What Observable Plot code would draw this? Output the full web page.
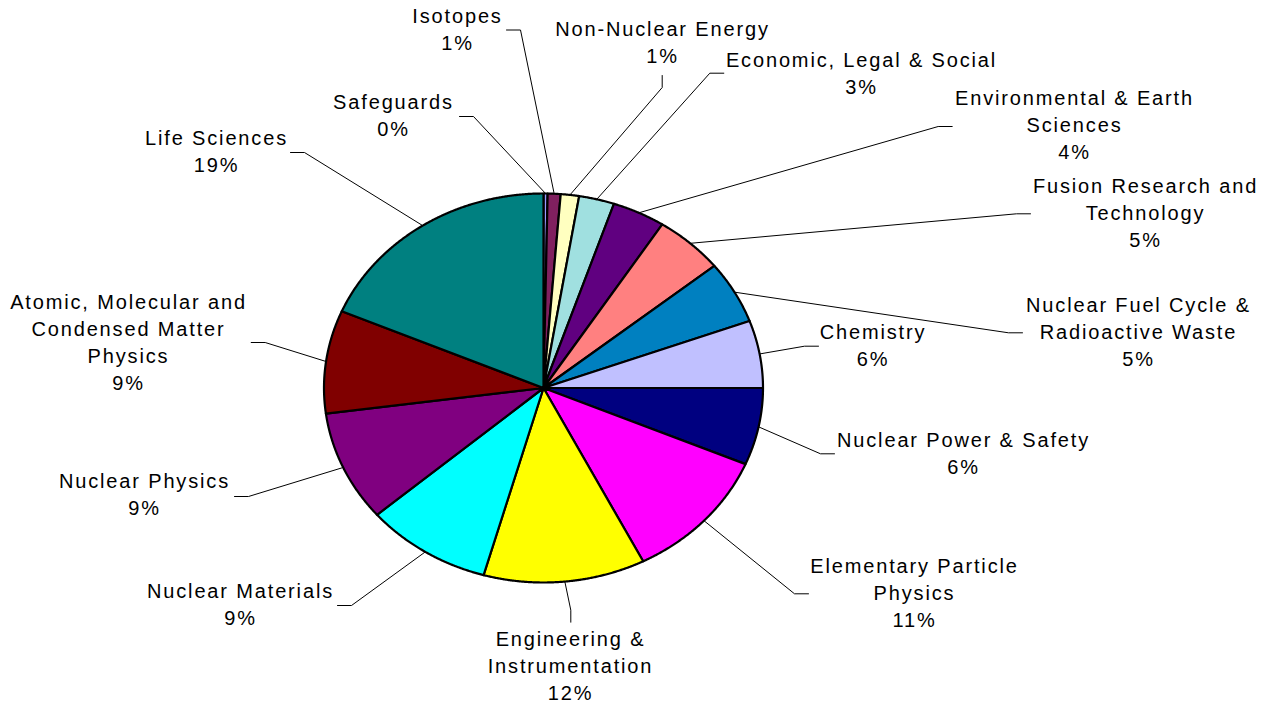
<!DOCTYPE html>
<html>
<head>
<meta charset="utf-8">
<script src="https://cdn.jsdelivr.net/npm/d3@7"></script>
<script src="https://cdn.jsdelivr.net/npm/@observablehq/plot@0.6"></script>
<style>
  html, body { margin: 0; padding: 0; background: #ffffff; }
  #chart { width: 1274px; height: 706px; }
</style>
</head>
<body>
<div id="chart"></div>
<script>
// ---------- DATA ----------
const categories = [
  "Safeguards",
  "Isotopes",
  "Non-Nuclear Energy",
  "Economic, Legal & Social",
  "Environmental & Earth Sciences",
  "Fusion Research and Technology",
  "Nuclear Fuel Cycle & Radioactive Waste",
  "Chemistry",
  "Nuclear Power & Safety",
  "Elementary Particle Physics",
  "Engineering & Instrumentation",
  "Nuclear Materials",
  "Nuclear Physics",
  "Atomic, Molecular and Condensed Matter Physics",
  "Life Sciences"
];
// share of total (percent), clockwise from 12 o'clock
const shares = [0.3, 0.95, 1.35, 2.6, 3.9, 5.1, 5.2, 5.6, 6.4, 11.1, 11.9, 9.3, 9.2, 8.55, 18.55];
const colors = [
  "#9999FF", "#80205F", "#FFFFC0", "#A0E0E0", "#600080",
  "#FF8080", "#0080C0", "#C0C0FF", "#000080", "#FF00FF",
  "#FFFF00", "#00FFFF", "#800080", "#800000", "#008080"
];
// wrapped label text, as laid out in the chart
const labelLines = [
  "Safeguards",
  "Isotopes",
  "Non-Nuclear Energy",
  "Economic, Legal & Social",
  "Environmental & Earth\nSciences",
  "Fusion Research and\nTechnology",
  "Nuclear Fuel Cycle &\nRadioactive Waste",
  "Chemistry",
  "Nuclear Power & Safety",
  "Elementary Particle\nPhysics",
  "Engineering &\nInstrumentation",
  "Nuclear Materials",
  "Nuclear Physics",
  "Atomic, Molecular and\nCondensed Matter\nPhysics",
  "Life Sciences"
];

// ---------- LAYOUT ----------
const W = 1274, H = 706;
const CX = 543, CY = 387.5, RX = 219.5, RY = 194.5;
// label block centres (x centre, y middle of block)
const labelAt = [
  [393, 115.5], [457, 29.7], [662, 43], [861, 73.7], [1074, 125],
  [1145, 213], [1138, 332], [872.5, 346], [963, 453.5], [914, 593.3],
  [570, 666.5], [240, 605], [144, 495.3], [128, 343], [216, 151.5]
];
// leader line end next to the label, and the direction of its first short segment
const leaderEnd = [
  [459, 116, "h"], [506, 29.5, "h"], [661.7, 75, "v"], [723.3, 72.7, "h"], [951.7, 126, "h"],
  [1030, 213.3, "h"], [1022, 332.3, "h"], [818, 345.7, "h"], [834, 453.3, "h"], [808, 593.3, "h"],
  [570.3, 621.7, "v"], [337, 605, "h"], [234, 496, "h"], [250.7, 342, "h"], [290, 152, "h"]
];

// ---------- BUILD ----------
const total = d3.sum(shares);
const slices = [];
let acc = 0;
shares.forEach((v, i) => {
  const a0 = acc / total * 2 * Math.PI;
  acc += v;
  const a1 = acc / total * 2 * Math.PI;
  slices.push({name: categories[i], value: v, a0, a1, am: (a0 + a1) / 2, i});
});

const px = a => CX + RX * Math.sin(a);
const py = a => CY - RY * Math.cos(a);

const slicePts = [];
for (const s of slices) {
  slicePts.push({name: s.name, x: CX, y: CY});
  const n = Math.max(2, Math.ceil((s.a1 - s.a0) / (Math.PI / 720)));
  for (let k = 0; k <= n; k++) {
    const a = s.a0 + (s.a1 - s.a0) * k / n;
    slicePts.push({name: s.name, x: px(a), y: py(a)});
  }
  slicePts.push({name: s.name, x: CX, y: CY});
}

const leaderPts = [];
slices.forEach((s, i) => {
  const [ex, ey, dir] = leaderEnd[i];
  const ax = px(s.am), ay = py(s.am);
  leaderPts.push({name: s.name, x: ex, y: ey});
  if (dir === "h") leaderPts.push({name: s.name, x: ex + 14 * Math.sign(ax - ex), y: ey});
  else leaderPts.push({name: s.name, x: ex, y: ey + 12 * Math.sign(ay - ey)});
  leaderPts.push({name: s.name, x: ax, y: ay});
});

const labels = slices.map((s, i) => ({
  x: labelAt[i][0],
  y: labelAt[i][1],
  text: labelLines[i] + "\n" + Math.round(s.value / total * 100 + 1e-9) + "%"
}));

const chart = Plot.plot({
  width: W,
  height: H,
  margin: 0,
  style: {
    fontFamily: "'Liberation Sans', Arial, sans-serif",
    letterSpacing: "1.85px",
    background: "#ffffff",
    color: "#000000"
  },
  x: {domain: [0, W], range: [0, W], axis: null},
  y: {domain: [0, H], range: [0, H], axis: null},
  color: {type: "ordinal", domain: categories, range: colors},
  marks: [
    Plot.line(slicePts, {
      x: "x", y: "y", z: "name", fill: "name",
      stroke: "#000000", strokeWidth: 2.2, strokeLinejoin: "round", curve: "linear"
    }),
    Plot.line(leaderPts, {
      x: "x", y: "y", z: "name",
      stroke: "#000000", strokeWidth: 1, curve: "linear"
    }),
    Plot.text(labels, {
      x: "x", y: "y", text: "text",
      textAnchor: "middle", lineAnchor: "middle", dy: -2.5,
      fontSize: 20, lineHeight: 1.35, fill: "#000000"
    })
  ]
});
document.getElementById("chart").appendChild(chart);
</script>
</body>
</html>
